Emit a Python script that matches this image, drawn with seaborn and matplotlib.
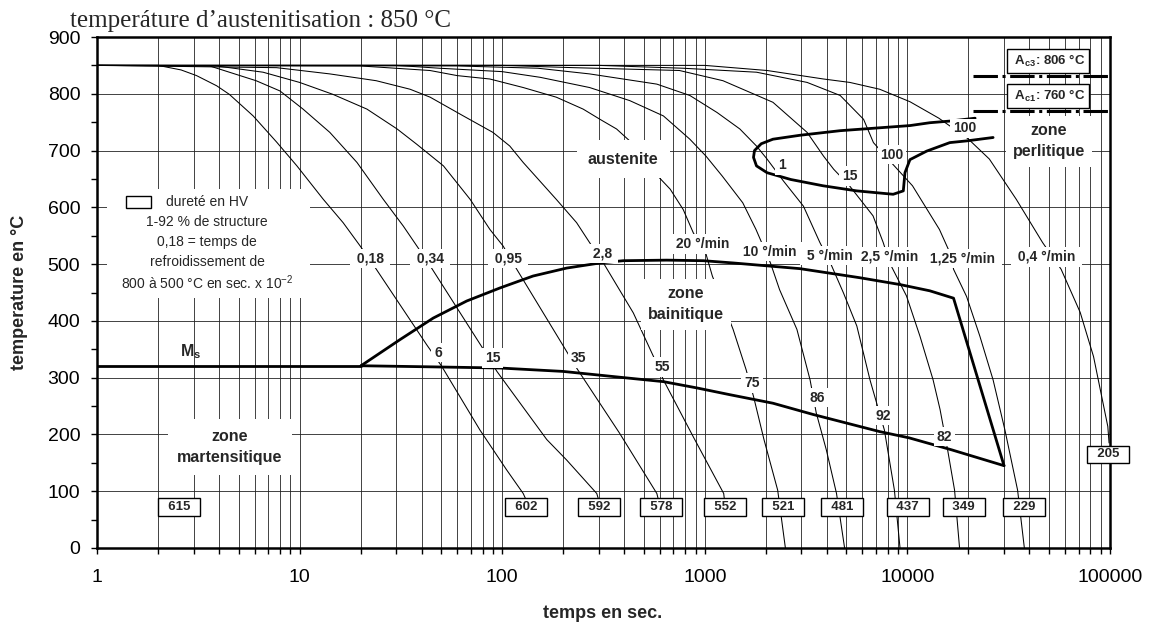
import matplotlib
matplotlib.use('Agg')
import matplotlib.pyplot as plt
import seaborn as sns
from matplotlib.ticker import LogLocator, FuncFormatter, NullFormatter, MultipleLocator
from matplotlib.patches import Rectangle

# --- donnees lues sur le diagramme TRC (temps en s, temperature en °C) ---
# courbes de refroidissement
t_018 = [1, 2.0, 2.6, 3.1, 3.9, 4.5, 5.9, 7.7, 9.7, 13.1, 16.4, 19.9, 23.1, 42.4, 50.3, 77.6, 105, 127, 135]
T_018 = [850, 850, 842, 832, 814, 799, 761, 715, 673, 614, 573, 532, 499, 358, 320, 208, 138, 96, 75]
t_034 = [1, 3.6, 4.5, 6.1, 8.0, 10.4, 14.1, 19.2, 25.9, 32.5, 37.9, 43.2, 79.1, 94.2, 166, 208, 293, 305]
T_034 = [850, 849, 838, 823, 805, 773, 732, 679, 614, 567, 532, 502, 355, 311, 191, 155, 96, 75]
t_095 = [1, 3.9, 6.6, 10.0, 14.6, 21.5, 30.3, 37.9, 51.3, 69.5, 87.0, 101, 113, 201, 233, 380, 580, 600]
T_095 = [850, 849, 838, 820, 799, 773, 738, 711, 673, 614, 561, 532, 502, 355, 317, 202, 96, 75]
t_28 = [1, 7.7, 14.1, 23.9, 35.1, 44.1, 64.3, 90, 109, 127, 185, 233, 270, 316, 444, 557, 625, 877, 1240, 1260]
T_28 = [850, 846, 835, 823, 808, 794, 761, 732, 708, 679, 614, 573, 538, 502, 414, 338, 296, 196, 96, 75]
t_20 = [1, 20, 44, 60, 87, 127, 185, 251, 304, 367, 426, 555, 675, 783, 878, 1010, 1090, 1380, 1600, 1740, 1960, 2290, 2500]
T_20 = [850, 849, 841, 832, 826, 811, 794, 773, 755, 738, 717, 664, 632, 596, 555, 520, 479, 385, 314, 267, 191, 102, 0]
t_10 = [1, 30, 49, 100, 154, 270, 426, 625, 844, 1015, 1220, 1540, 1790, 2110, 2340, 2850, 3310, 3550, 3980, 4470, 4900]
T_10 = [850, 850, 845, 839, 829, 811, 788, 761, 720, 690, 655, 608, 561, 502, 455, 385, 296, 238, 173, 96, 0]
t_5 = [1, 60, 150, 270, 580, 844, 1150, 1490, 1800, 2030, 2450, 3070, 3700, 4170, 4840, 5630, 6540, 7700, 8630, 9200]
T_5 = [850, 849, 845, 835, 817, 797, 767, 738, 708, 685, 646, 602, 538, 502, 449, 391, 296, 208, 102, 0]
t_25 = [1, 100, 225, 750, 1230, 2170, 3200, 3860, 4330, 5180, 6770, 7600, 8180, 9900, 11540, 13400, 14500, 15800, 17100, 18100]
T_25 = [850, 850, 846, 841, 823, 785, 732, 690, 667, 638, 585, 538, 502, 444, 373, 296, 244, 173, 102, 0]
t_125 = [1, 300, 780, 1800, 3200, 4660, 6080, 6800, 8470, 10600, 14400, 16500, 16900, 19600, 22800, 26500, 30300, 35000, 37800]
T_125 = [850, 850, 845, 838, 820, 797, 755, 714, 676, 638, 561, 514, 491, 443, 373, 296, 208, 102, 0]
t_04 = [1, 1000, 2030, 3860, 5200, 7300, 10300, 14300, 19900, 25400, 34500, 46500, 57400, 71300, 83000, 97600, 99000]
T_04 = [850, 850, 841, 826, 820, 808, 786, 757, 721, 685, 614, 538, 491, 415, 337, 214, 185]

# domaines de transformation (traits epais)
t_ms = [1, 20.1]
T_ms = [321, 321]
t_bs = [20.1, 31.3, 45.7, 66.8, 97.5, 142, 208, 304, 396, 649, 984, 1384, 2950, 5830, 9190, 12900, 16900, 30000]
T_bs = [321, 367, 405, 435, 458, 479, 493, 502, 506, 507, 506, 502, 492, 476, 464, 453, 440, 145]
t_bf = [20.1, 45.7, 97.5, 200, 426, 625, 912, 1330, 2170, 3440, 7300, 10200, 16500, 30000]
T_bf = [321, 319, 317, 311, 299, 293, 282, 270, 255, 235, 205, 194, 173, 145]
t_fp = [21600, 16300, 12900, 10300, 4660, 2960, 2170, 1900, 1760, 1740, 1800, 2030, 2660, 3830, 5620,
        8510, 9550, 9730, 10300, 12450, 16200, 19600, 26500]
T_fp = [757, 752, 749, 744, 735, 727, 720, 712, 700, 688, 673, 661, 649, 638, 629,
        623, 629, 661, 684, 699, 714, 717, 723]
t_ac = [21000, 100000]
T_ac3 = [831, 831]
T_ac1 = [769, 769]

# textes
rate_labels = ['0,18', '0,34', '0,95', '2,8', '20 °/min', '10 °/min', '5 °/min', '2,5 °/min', '1,25 °/min', '0,4 °/min']
pct_labels = ['6', '15', '35', '55', '75', '86', '92', '82', '1', '15', '100', '100']
hv_labels = ['615', '602', '592', '578', '552', '521', '481', '437', '349', '229', '205']

# positions des textes (t, T)
rate_pos = [(22.3, 510), (44, 510), (107, 510), (311, 519), (980, 535), (2100, 522), (4150, 515),
            (8200, 513), (18800, 510), (48800, 513)]
pct_pos = [(48.2, 344), (90, 335), (237, 335), (615, 319), (1710, 291), (3580, 265), (7590, 233),
           (15200, 196), (2400, 674), (5210, 655), (8400, 693), (19200, 739)]
hv_pos = [(2.54, 72), (131, 72), (300, 72), (608, 72), (1260, 72), (2430, 72), (4750, 72),
          (10070, 72), (19000, 72), (37600, 72), (98000, 165)]

sns.set_style('white')
plt.rcParams['font.family'] = ['Liberation Sans', 'DejaVu Sans']
plt.rcParams['mathtext.fontset'] = 'custom'
plt.rcParams['mathtext.rm'] = 'Liberation Sans'
plt.rcParams['mathtext.it'] = 'Liberation Sans:italic'
plt.rcParams['mathtext.bf'] = 'Liberation Sans:bold'

fig = plt.figure(figsize=(11.52, 6.25), dpi=100)
ax = fig.add_axes([0.0842, 0.1232, 0.8793, 0.8176])
ax.set_xscale('log')

cooling = [(t_018, T_018), (t_034, T_034), (t_095, T_095), (t_28, T_28), (t_20, T_20),
           (t_10, T_10), (t_5, T_5), (t_25, T_25), (t_125, T_125), (t_04, T_04)]
for t, T in cooling:
    sns.lineplot(x=t, y=T, ax=ax, color='black', linewidth=0.75, sort=False, estimator=None, zorder=2)

for t, T in [(t_ms, T_ms), (t_bs, T_bs), (t_bf, T_bf), (t_fp, T_fp)]:
    sns.lineplot(x=t, y=T, ax=ax, color='black', linewidth=2.0, sort=False, estimator=None, zorder=3)

for T in (T_ac3, T_ac1):
    sns.lineplot(x=t_ac, y=T, ax=ax, color='black', linewidth=2.2, sort=False, estimator=None,
                 linestyle=(0, (8, 1.5, 1, 1.5)), zorder=3)

ax.set_xlim(1, 100000)
ax.set_ylim(0, 900)
ax.xaxis.set_major_locator(LogLocator(base=10, numticks=20))
ax.xaxis.set_minor_locator(LogLocator(base=10, subs=range(2, 10), numticks=100))
ax.xaxis.set_major_formatter(FuncFormatter(lambda v, p: f'{v:g}'))
ax.xaxis.set_minor_formatter(NullFormatter())
ax.yaxis.set_major_locator(MultipleLocator(100))
ax.yaxis.set_minor_locator(MultipleLocator(50))
ax.grid(True, which='both', axis='x', color='#222222', linewidth=0.6)
ax.grid(True, which='major', axis='y', color='#222222', linewidth=0.6)
ax.set_axisbelow(True)
ax.tick_params(which='both', direction='out', left=True, bottom=True, length=4, width=1,
               color='black', labelsize=14, labelcolor='black')
ax.tick_params(axis='x', which='both', pad=11)
ax.tick_params(axis='y', which='both', pad=8)
for s in ax.spines.values():
    s.set_linewidth(1.8)
    s.set_color('black')
ax.set_xlabel('')
ax.set_ylabel('')

white = dict(boxstyle='square,pad=0.2', fc='white', ec='none')
for s, (t, T) in zip(rate_labels, rate_pos):
    ax.text(t, T, ' ' + s + ' ', ha='center', va='center', fontsize=10, fontweight='bold', bbox=white, zorder=5)
for s, (t, T) in zip(pct_labels, pct_pos):
    ax.text(t, T, s, ha='center', va='center', fontsize=10, fontweight='bold', bbox=white, zorder=5)
for s, (t, T) in zip(hv_labels, hv_pos):
    ax.text(t, T, '  ' + s + '  ', ha='center', va='center', fontsize=9.5, fontweight='bold', zorder=6,
            bbox=dict(boxstyle='square,pad=0.2', fc='white', ec='black', lw=1.0))

zone = dict(ha='center', va='center', fontsize=11.5, fontweight='bold', linespacing=1.5, zorder=5)
ax.text(395, 685, 'austenite', bbox=dict(boxstyle='square,pad=0.7', fc='white', ec='none'), **zone)
ax.text(808, 429, 'zone\nbainitique', bbox=dict(boxstyle='square,pad=0.45', fc='white', ec='none'), **zone)
ax.text(4.53, 178, 'zone\nmartensitique', bbox=dict(boxstyle='square,pad=0.6', fc='white', ec='none'), **zone)
ax.text(50000, 716, 'zone\nperlitique', bbox=dict(boxstyle='square,pad=0.45', fc='white', ec='none'), **zone)
ax.text(2.9, 345, r'M$_{\mathbf{s}}$', ha='center', va='center', fontsize=11.5, fontweight='bold', zorder=5)

acbox = dict(boxstyle='square,pad=0.3', fc='white', ec='black', lw=1.0)
ax.text(49400, 858, r' A$_{\mathbf{c3}}$: 806 °C ', ha='center', va='center', fontsize=9.5,
        fontweight='bold', bbox=acbox, zorder=6)
ax.text(49400, 796, r' A$_{\mathbf{c1}}$: 760 °C ', ha='center', va='center', fontsize=9.5,
        fontweight='bold', bbox=acbox, zorder=6)

# legende
ax.add_patch(Rectangle((0.0099, 0.490), 0.2004, 0.212, transform=ax.transAxes, fc='white', ec='none', zorder=4))
ax.add_patch(Rectangle((0.0286, 0.665), 0.0247, 0.023, transform=ax.transAxes, fc='white', ec='black',
                       lw=1.0, zorder=5))
legend_lines = ['dureté en HV', '1-92 % de structure', '0,18 = temps de', 'refroidissement de',
                r'800 à 500 °C en sec. x 10$^{\mathrm{-2}}$']
for i, s in enumerate(legend_lines):
    ax.text(0.1086, 0.678 - 0.0395 * i, s, transform=ax.transAxes, ha='center', va='center',
            fontsize=10, zorder=6)

fig.text(70 / 1152, 1 - 27 / 625, 'temperáture d’austenitisation : 850 °C', family='Liberation Serif',
         fontsize=18, va='baseline', ha='left')
fig.text(20 / 1152, 1 - 292 / 625, 'temperature en °C', rotation=90, ha='center', va='center',
         fontsize=13, fontweight='bold')
fig.text(603 / 1152, 1 - 613 / 625, 'temps en sec.', ha='center', va='center', fontsize=13, fontweight='bold')

fig.savefig('out.png', dpi=100)
